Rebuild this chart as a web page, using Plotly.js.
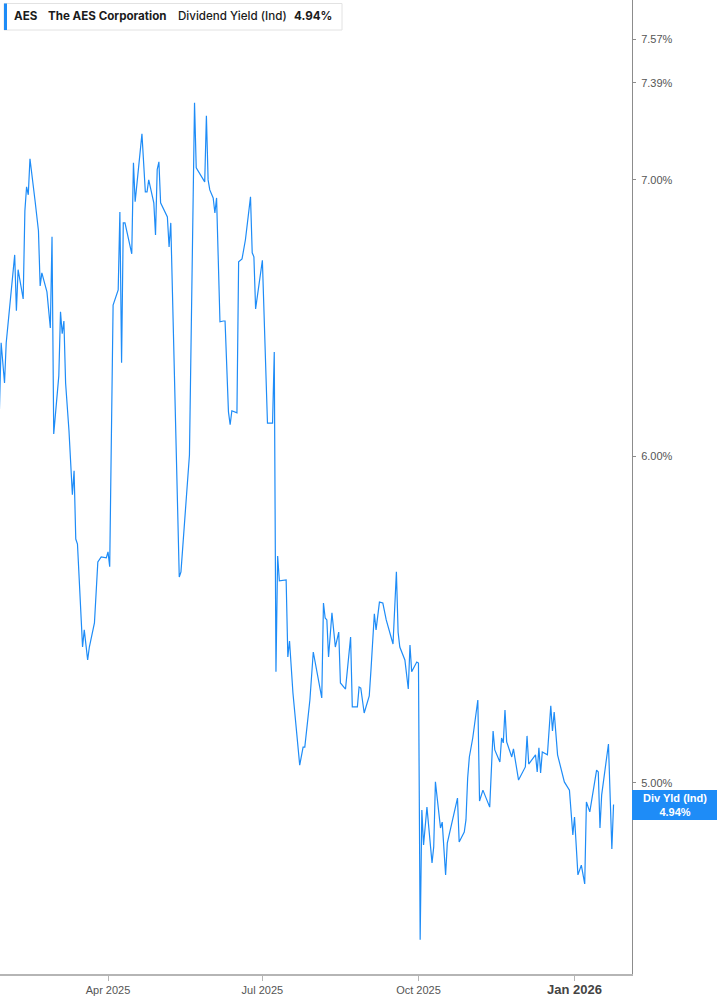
<!DOCTYPE html>
<html>
<head>
<meta charset="utf-8">
<script src="https://cdn.plot.ly/plotly-3.0.1.min.js"></script>
<style>
  html, body { margin: 0; padding: 0; background: #fff; }
  #chart { width: 717px; height: 1005px; }
</style>
</head>
<body>
<div id="chart"></div>
<script>
'use strict';

// AES dividend yield (indicated), in percent
const dates = [
    '2025-01-27','2025-01-28','2025-01-30','2025-01-31',
    '2025-02-05','2025-02-06','2025-02-07','2025-02-10','2025-02-11','2025-02-12','2025-02-13','2025-02-14',
    '2025-02-17','2025-02-19','2025-02-20','2025-02-21','2025-02-24','2025-02-26','2025-02-27','2025-02-28',
    '2025-03-03','2025-03-04','2025-03-05','2025-03-06','2025-03-07','2025-03-09','2025-03-11','2025-03-12',
    '2025-03-13','2025-03-14','2025-03-17','2025-03-18','2025-03-20','2025-03-21','2025-03-24','2025-03-26',
    '2025-03-28','2025-03-30','2025-03-31',
    '2025-04-01','2025-04-02','2025-04-04','2025-04-07','2025-04-08','2025-04-09','2025-04-10','2025-04-11',
    '2025-04-15','2025-04-16','2025-04-17','2025-04-21','2025-04-23','2025-04-24','2025-04-25','2025-04-28',
    '2025-04-29','2025-04-30',
    '2025-05-01','2025-05-02','2025-05-06','2025-05-07','2025-05-08','2025-05-13','2025-05-14','2025-05-19',
    '2025-05-22','2025-05-23','2025-05-28','2025-05-29','2025-05-30','2025-05-31',
    '2025-06-02','2025-06-03','2025-06-04','2025-06-06','2025-06-08','2025-06-09','2025-06-11','2025-06-12',
    '2025-06-13','2025-06-15','2025-06-16','2025-06-17','2025-06-19','2025-06-21','2025-06-24','2025-06-25',
    '2025-06-26','2025-06-27',
    '2025-07-01','2025-07-04','2025-07-07','2025-07-08','2025-07-09','2025-07-10','2025-07-11','2025-07-15',
    '2025-07-16','2025-07-17','2025-07-19','2025-07-23','2025-07-25','2025-07-26','2025-07-29','2025-07-31',
    '2025-08-05','2025-08-06','2025-08-07','2025-08-08','2025-08-09','2025-08-11','2025-08-13','2025-08-15',
    '2025-08-16','2025-08-19','2025-08-20','2025-08-22','2025-08-23','2025-08-26','2025-08-27','2025-08-28',
    '2025-08-30',
    '2025-09-02','2025-09-03','2025-09-05','2025-09-06','2025-09-08','2025-09-10','2025-09-12','2025-09-16',
    '2025-09-18','2025-09-19','2025-09-20','2025-09-23','2025-09-25','2025-09-26','2025-09-27','2025-09-30',
    '2025-10-01','2025-10-02','2025-10-03','2025-10-04','2025-10-06','2025-10-09','2025-10-10','2025-10-11',
    '2025-10-14','2025-10-15','2025-10-17','2025-10-18','2025-10-22','2025-10-24','2025-10-25','2025-10-28',
    '2025-10-29','2025-10-30','2025-10-31',
    '2025-11-02','2025-11-05','2025-11-06','2025-11-08','2025-11-10','2025-11-12','2025-11-14','2025-11-15',
    '2025-11-18','2025-11-19','2025-11-20','2025-11-21','2025-11-22','2025-11-25','2025-11-26','2025-11-29',
    '2025-12-03','2025-12-04','2025-12-05','2025-12-09','2025-12-10','2025-12-11','2025-12-12','2025-12-13',
    '2025-12-16','2025-12-18','2025-12-19','2025-12-20','2025-12-22','2025-12-26','2025-12-29','2025-12-31',
    '2026-01-01','2026-01-03','2026-01-05','2026-01-07','2026-01-08','2026-01-10','2026-01-14','2026-01-15',
    '2026-01-16','2026-01-17','2026-01-21','2026-01-23','2026-01-24'
];

const yields = [
    6.157, 6.392, 6.250, 6.392,
    6.713, 6.507, 6.658, 6.550, 6.880, 6.973, 6.942, 7.083,
    6.919, 6.804, 6.598, 6.646, 6.576, 6.445, 6.781, 6.075,
    6.275, 6.503, 6.424, 6.470, 6.250, 6.085, 5.872, 5.951,
    5.729, 5.713, 5.394, 5.446, 5.355, 5.394, 5.467, 5.656,
    5.672, 5.669, 5.669,
    5.688, 5.641, 6.528, 6.583, 6.876, 6.321, 6.834, 6.834,
    6.717, 7.067, 6.915, 7.182, 6.953, 6.953, 7.000, 6.911,
    6.788, 7.040,
    7.071, 6.911, 6.857, 6.743, 6.834, 5.609, 5.625, 6.004,
    7.308, 7.047, 6.992, 7.255, 7.000, 6.961,
    6.930, 6.872, 6.930, 6.467, 6.470, 6.470, 6.150, 6.106,
    6.154, 6.150, 6.147, 6.687, 6.698, 6.770, 6.934, 6.721,
    6.706, 6.514,
    6.693, 6.112, 6.112, 6.359, 5.320, 5.675, 5.597, 5.600,
    5.364, 5.412, 5.258, 5.050, 5.101, 5.101, 5.237, 5.379,
    5.243, 5.528, 5.482, 5.476, 5.364, 5.498, 5.394, 5.439,
    5.287, 5.269, 5.325, 5.424, 5.217, 5.217, 5.275, 5.272,
    5.199,
    5.249, 5.325, 5.495, 5.446, 5.531, 5.528, 5.476, 5.403,
    5.625, 5.439, 5.394, 5.355, 5.269, 5.400, 5.320, 5.349,
    5.346, 4.581, 4.925, 4.830, 4.933, 4.782, 4.825, 5.003,
    4.876, 4.892, 4.750, 4.835, 4.917, 4.958, 4.838, 4.865,
    4.898, 5.014, 5.073,
    5.127, 5.237, 4.950, 4.980, 4.958, 4.933, 5.147, 5.093,
    5.059, 5.127, 5.113, 5.208, 5.116, 5.073, 5.096, 5.008,
    5.045, 5.133, 5.053, 5.079, 5.031, 5.099, 5.028, 5.087,
    5.079, 5.220, 5.147, 5.202, 5.079, 5.003, 4.980, 4.857,
    4.906, 4.750, 4.776, 4.726, 4.947, 4.920, 5.036, 5.031,
    4.876, 4.967, 5.110, 4.819, 4.94
];

const xTickVals = ['2025-04-01', '2025-07-01', '2025-10-01', '2026-01-01'];
const xTickText = ['Apr 2025', 'Jul 2025', 'Oct 2025', '<span style="font-size:13px;color:#444"><b>Jan 2026</b></span>'];

const yTickVals = [5, 6, 7, 7.39, 7.57];
const yTickText = ['5.00%', '6.00%', '7.00%', '7.39%', '7.57%'];

const ticker = 'AES';
const company = 'The AES Corporation';
const metric = 'Dividend Yield (Ind)';
const lastLabel = 'Div Yld (Ind)';
const lastValue = yields[yields.length - 1];

const BLUE = '#1e8cf7';
const W = 717, H = 1005;
const M = {l: 0, r: 85, t: 0, b: 31};
const PW = W - M.l - M.r, PH = H - M.t - M.b;

// pixel -> paper helpers for the overlay boxes
function px(x) { return (x - M.l) / PW; }
function py(y) { return 1 - (y - M.t) / PH; }

let trace = {
    x: dates,
    y: yields,
    type: 'scatter',
    mode: 'lines',
    line: {color: BLUE, width: 1.2},
    hoverinfo: 'skip'
};

let headFont = {family: 'Inter, Roboto, sans-serif', size: 11.6, color: '#1b1b1b'};

let layout = {
    width: W,
    height: H,
    margin: M,
    paper_bgcolor: '#fff',
    plot_bgcolor: '#fff',
    showlegend: false,
    xaxis: {
        type: 'date',
        range: ['2025-01-27 08:00', '2026-02-03 21:00'],
        tickmode: 'array',
        tickvals: xTickVals,
        ticktext: xTickText,
        showgrid: false,
        zeroline: false,
        showline: true,
        linecolor: '#b5b5b5',
        linewidth: 2,
        ticks: 'outside',
        ticklen: 5,
        tickcolor: '#b5b5b5',
        tickfont: {family: 'Liberation Sans, Arial, sans-serif', size: 11, color: '#555'},
        fixedrange: true
    },
    yaxis: {
        type: 'log',
        side: 'right',
        range: [Math.log10(4.4945), Math.log10(7.739)],
        tickmode: 'array',
        tickvals: yTickVals,
        ticktext: yTickText,
        showgrid: false,
        zeroline: false,
        showline: true,
        linecolor: '#8c8c8c',
        linewidth: 1,
        ticks: 'outside',
        ticklen: 3,
        tickcolor: '#8c8c8c',
        ticklabelstandoff: 3,
        tickfont: {family: 'Liberation Sans, Arial, sans-serif', size: 11, color: '#555'},
        fixedrange: true
    },
    shapes: [
        // legend box
        {type: 'rect', xref: 'paper', yref: 'paper',
         x0: px(4), x1: px(342), y0: py(30), y1: py(3.5),
         line: {color: '#e2e2e2', width: 1}, fillcolor: '#fff'},
        {type: 'rect', xref: 'paper', yref: 'paper',
         x0: px(4), x1: px(7), y0: py(30), y1: py(3.5),
         line: {width: 0}, fillcolor: BLUE},
        // last value flag on the axis
        {type: 'rect', xref: 'paper', yref: 'paper',
         x0: 1, x1: px(717), y0: py(820), y1: py(790),
         line: {width: 0}, fillcolor: BLUE}
    ],
    annotations: [
        {xref: 'paper', yref: 'paper', x: px(12), y: py(16.5), xanchor: 'left', yanchor: 'middle',
         showarrow: false, text: ticker, font: Object.assign({}, headFont, {weight: 700})},
        {xref: 'paper', yref: 'paper', x: px(46), y: py(16.5), xanchor: 'left', yanchor: 'middle',
         showarrow: false, text: company, font: Object.assign({}, headFont, {weight: 700})},
        {xref: 'paper', yref: 'paper', x: px(176), y: py(16.5), xanchor: 'left', yanchor: 'middle',
         showarrow: false, text: metric, font: Object.assign({}, headFont, {weight: 500})},
        {xref: 'paper', yref: 'paper', x: px(292), y: py(16.5), xanchor: 'left', yanchor: 'middle',
         showarrow: false, text: lastValue.toFixed(2) + '%', font: Object.assign({}, headFont, {weight: 700})},
        {xref: 'paper', yref: 'paper', x: px(675), y: py(805), xanchor: 'center', yanchor: 'middle',
         showarrow: false, align: 'center',
         text: '<b>' + lastLabel + '</b><br><b>' + lastValue.toFixed(2) + '%</b>',
         font: {family: 'Liberation Sans, Arial, sans-serif', size: 11, color: '#fff'}}
    ]
};

Plotly.newPlot('chart', [trace], layout, {displayModeBar: false, staticPlot: true});
</script>
</body>
</html>
